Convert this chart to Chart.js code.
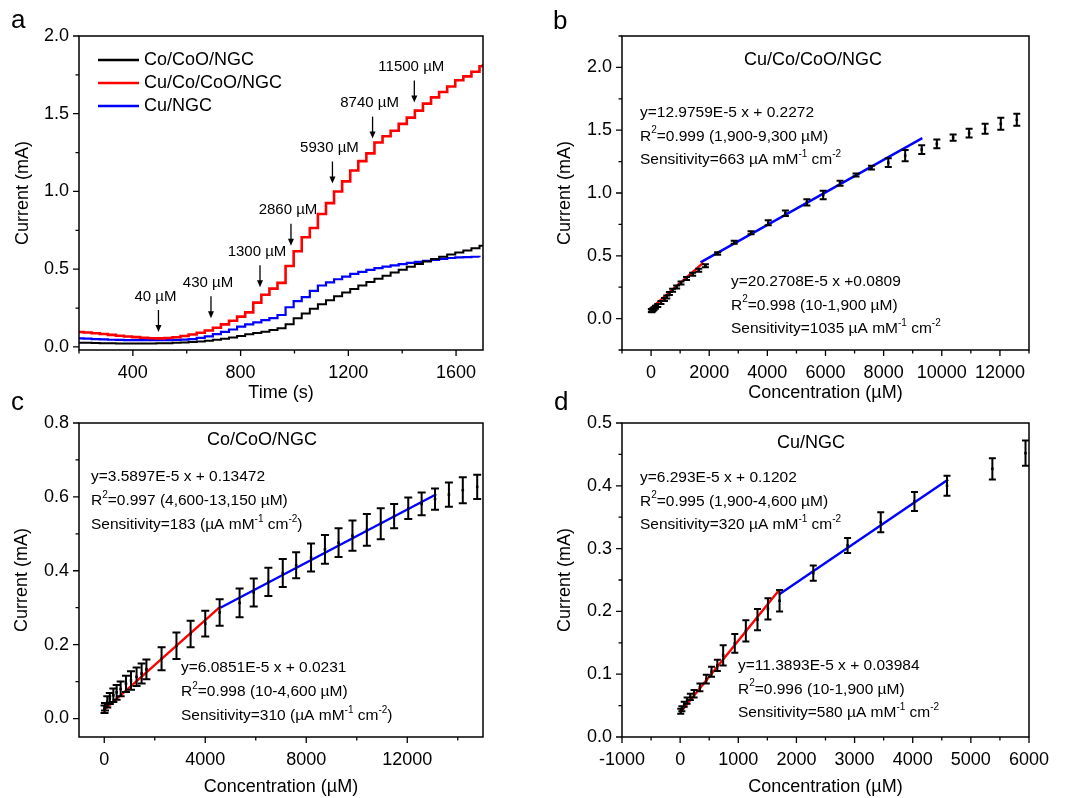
<!DOCTYPE html>
<html>
<head>
<meta charset="utf-8">
<script src="https://cdn.jsdelivr.net/npm/chart.js@4.4.1/dist/chart.umd.min.js"></script>
<style>
  html, body { margin: 0; padding: 0; background: #fff; }
  #wrap { position: relative; width: 1067px; height: 798px; }
  #wrap canvas { position: absolute; left: 0; top: 0; }
</style>
</head>
<body>
<div id="wrap">
  <canvas id="panelA" width="1067" height="798"></canvas>
  <canvas id="panelB" width="1067" height="798"></canvas>
  <canvas id="panelC" width="1067" height="798"></canvas>
  <canvas id="panelD" width="1067" height="798"></canvas>
</div>
<script>
// ─── PANEL A: current vs time (step additions) ─────────────
const timeS = [200, 217, 247, 277, 307, 337, 367, 397, 427, 457, 487, 517, 547, 577, 607, 637, 667,
  697, 727, 757, 787, 817, 847, 877, 907, 937, 967, 997, 1027, 1057, 1087, 1117, 1147, 1177, 1207,
  1237, 1267, 1297, 1327, 1357, 1387, 1417, 1447, 1477, 1507, 1537, 1567, 1597, 1627, 1657, 1687, 1700];
const iCoCoO = [0.027, 0.026, 0.025, 0.024, 0.023, 0.022, 0.022, 0.022, 0.022, 0.022, 0.023, 0.024, 0.026,
  0.028, 0.031, 0.035, 0.040, 0.046, 0.053, 0.060, 0.070, 0.082, 0.090, 0.098, 0.108, 0.120, 0.145, 0.185,
  0.215, 0.245, 0.275, 0.300, 0.325, 0.350, 0.372, 0.395, 0.418, 0.438, 0.458, 0.478, 0.497, 0.515, 0.533,
  0.550, 0.565, 0.580, 0.595, 0.608, 0.620, 0.635, 0.650, 0.655];
const iCuCoCoO = [0.096, 0.093, 0.088, 0.083, 0.077, 0.072, 0.067, 0.063, 0.059, 0.056, 0.055, 0.057, 0.062,
  0.070, 0.080, 0.091, 0.105, 0.123, 0.145, 0.168, 0.195, 0.222, 0.285, 0.335, 0.375, 0.412, 0.520, 0.615,
  0.705, 0.765, 0.855, 0.925, 1.000, 1.065, 1.135, 1.195, 1.245, 1.315, 1.355, 1.390, 1.435, 1.475, 1.520,
  1.565, 1.605, 1.640, 1.675, 1.715, 1.740, 1.770, 1.805, 1.820];
const iCuNGC = [0.055, 0.053, 0.050, 0.048, 0.046, 0.045, 0.044, 0.043, 0.043, 0.043, 0.043, 0.044, 0.045,
  0.047, 0.050, 0.058, 0.068, 0.082, 0.096, 0.112, 0.130, 0.145, 0.158, 0.172, 0.185, 0.205, 0.255, 0.295,
  0.320, 0.360, 0.395, 0.415, 0.435, 0.452, 0.470, 0.482, 0.495, 0.507, 0.517, 0.525, 0.533, 0.540, 0.547,
  0.553, 0.560, 0.566, 0.572, 0.576, 0.578, 0.580, 0.578, null];
const addLabels     = ['40 µM', '430 µM', '1300 µM', '2860 µM', '5930 µM', '8740 µM', '11500 µM'];
const addTimes      = [495, 690, 872, 987, 1141, 1290, 1445];
const addTipCurrent = [0.096, 0.185, 0.384, 0.650, 1.051, 1.340, 1.572];
const tickTimeA = [400, 800, 1200, 1600];
const tickCurrA = [0.0, 0.5, 1.0, 1.5, 2.0];

// ─── PANEL B: Cu/Co/CoO/NGC calibration ────────────────────
const concB = [10, 30, 60, 100, 150, 230, 340, 460, 540, 630, 740, 880, 1030, 1220, 1430, 1640, 1870,
  2290, 2860, 3440, 4030, 4620, 5360, 5920, 6500, 7050, 7580, 8160, 8740, 9310, 9830, 10390, 10940,
  11490, 12030, 12580];
const currB = [0.065, 0.060, 0.070, 0.078, 0.090, 0.105, 0.128, 0.152, 0.172, 0.200, 0.226, 0.252, 0.284,
  0.319, 0.354, 0.385, 0.420, 0.519, 0.607, 0.683, 0.763, 0.838, 0.926, 0.984, 1.077, 1.144, 1.202, 1.242,
  1.298, 1.346, 1.391, 1.441, 1.476, 1.511, 1.551, 1.583];
const errB = [0.012, 0.010, 0.012, 0.012, 0.012, 0.012, 0.012, 0.012, 0.012, 0.012, 0.012, 0.012, 0.012,
  0.012, 0.012, 0.012, 0.012, 0.010, 0.012, 0.012, 0.020, 0.022, 0.025, 0.033, 0.020, 0.012, 0.015, 0.035,
  0.045, 0.035, 0.035, 0.025, 0.035, 0.040, 0.048, 0.048];
const fitLowBX = [10, 1800],   fitLowBY = [0.083, 0.446];
const fitHighBX = [1700, 9330], fitHighBY = [0.448, 1.437];
const tickConcB = [0, 2000, 4000, 6000, 8000, 10000, 12000];
const tickCurrB = [0.0, 0.5, 1.0, 1.5, 2.0];

// ─── PANEL C: Co/CoO/NGC calibration ───────────────────────
const concC = [10, 30, 120, 220, 360, 490, 650, 860, 1060, 1280, 1480, 1670, 2270, 2860, 3420, 4000,
  4570, 5360, 5920, 6500, 7070, 7600, 8190, 8740, 9280, 9830, 10400, 10950, 11480, 12040, 12570, 13100,
  13650, 14200, 14770];
const currC = [0.025, 0.032, 0.045, 0.054, 0.063, 0.071, 0.080, 0.094, 0.103, 0.113, 0.122, 0.133, 0.162,
  0.197, 0.229, 0.257, 0.287, 0.313, 0.341, 0.370, 0.394, 0.415, 0.436, 0.458, 0.476, 0.495, 0.511, 0.527,
  0.548, 0.569, 0.581, 0.594, 0.606, 0.618, 0.627];
const errC = [0.010, 0.010, 0.015, 0.015, 0.018, 0.020, 0.020, 0.022, 0.025, 0.025, 0.027, 0.027, 0.031,
  0.036, 0.036, 0.035, 0.036, 0.039, 0.038, 0.038, 0.038, 0.035, 0.038, 0.039, 0.039, 0.041, 0.043, 0.042,
  0.033, 0.029, 0.031, 0.029, 0.033, 0.035, 0.033];
const fitLowCX = [10, 4600],    fitLowCY = [0.024, 0.303];
const fitHighCX = [4600, 13150], fitHighCY = [0.300, 0.607];
const tickConcC = [0, 4000, 8000, 12000];
const tickCurrC = [0.0, 0.2, 0.4, 0.6, 0.8];

// ─── PANEL D: Cu/NGC calibration ───────────────────────────
const concD = [10, 30, 70, 120, 175, 240, 340, 450, 540, 640, 740, 940, 1130, 1330, 1510, 1710, 2290,
  2880, 3450, 4030, 4590, 5370, 5940];
const currD = [0.041, 0.045, 0.052, 0.058, 0.064, 0.069, 0.079, 0.092, 0.104, 0.114, 0.130, 0.149, 0.169,
  0.187, 0.204, 0.217, 0.261, 0.305, 0.342, 0.375, 0.400, 0.427, 0.452];
const errD = [0.004, 0.004, 0.004, 0.005, 0.005, 0.006, 0.006, 0.007, 0.008, 0.009, 0.016, 0.015, 0.017,
  0.017, 0.017, 0.017, 0.012, 0.012, 0.016, 0.015, 0.016, 0.017, 0.020];
const fitLowDX = [10, 1700],   fitLowDY = [0.040, 0.2335];
const fitHighDX = [1700, 4610], fitHighDY = [0.227, 0.410];
const tickConcD = [-1000, 0, 1000, 2000, 3000, 4000, 5000, 6000];
const tickCurrD = [0.0, 0.1, 0.2, 0.3, 0.4, 0.5];

// ─── SHARED SETUP ──────────────────────────────────────────
const FONT = '"Liberation Sans", Arial, Helvetica, sans-serif';
Chart.defaults.font.family = FONT;
Chart.defaults.color = '#000';

const pts = (xs, ys) => xs.map((x, i) => ({ x, y: ys[i] }));
const fmt1 = v => v.toFixed(1);

function axis(o) {
  return {
    type: 'linear', min: o.min, max: o.max,
    grid: { display: false, drawTicks: false }, border: { display: false },
    afterBuildTicks: s => { s.ticks = o.ticks.map(v => ({ value: v })); },
    afterFit: s => { if (o.isX) s.height = o.size; else s.width = o.size; },
    ticks: { autoSkip: false, maxRotation: 0, padding: o.isX ? 12 : 10, font: { size: 18 }, color: '#000',
             callback: o.fmt || (v => String(v)) },
    title: { display: true, text: o.title, font: { size: 18 }, color: '#000',
             padding: o.isX ? { top: 0, bottom: o.titlePad } : { top: o.titlePad, bottom: 0 } },
  };
}

// major ticks from the scale, minor ticks halfway between
function tickMarks(scale) {
  const major = scale.ticks.map(t => t.value);
  const step = major[1] - major[0];
  const out = major.map(v => [v, 6]);
  for (let k = -3; k < major.length + 3; k++) {
    const v = major[0] + (k + 0.5) * step;
    if (v >= scale.min - step * 1e-6 && v <= scale.max + step * 1e-6) out.push([v, 3.5]);
  }
  return out;
}

const framePlugin = {
  id: 'frame',
  afterDraw(chart) {
    const { ctx, chartArea: ca, scales: { x, y } } = chart;
    ctx.save();
    ctx.strokeStyle = '#000';
    ctx.lineWidth = 1.5;
    ctx.strokeRect(ca.left, ca.top, ca.right - ca.left, ca.bottom - ca.top);
    ctx.lineWidth = 1.3;
    ctx.beginPath();
    tickMarks(x).forEach(([v, len]) => {
      const p = x.getPixelForValue(v);
      ctx.moveTo(p, ca.bottom); ctx.lineTo(p, ca.bottom + len);
    });
    tickMarks(y).forEach(([v, len]) => {
      const p = y.getPixelForValue(v);
      ctx.moveTo(ca.left, p); ctx.lineTo(ca.left - len, p);
    });
    ctx.stroke();
    ctx.restore();
  }
};

const errorBarPlugin = {
  id: 'errorBars',
  afterDatasetsDraw(chart, args, o) {
    const { ctx, scales: { y } } = chart;
    ctx.save();
    ctx.strokeStyle = '#000';
    ctx.lineWidth = o.width || 1.5;
    chart.data.datasets.forEach((ds, di) => {
      if (!ds.errors) return;
      chart.getDatasetMeta(di).data.forEach((pt, i) => {
        const v = ds.data[i].y, e = ds.errors[i];
        const top = y.getPixelForValue(v + e), bot = y.getPixelForValue(v - e);
        ctx.beginPath();
        ctx.moveTo(pt.x, top); ctx.lineTo(pt.x, bot);
        ctx.moveTo(pt.x - o.cap, top); ctx.lineTo(pt.x + o.cap, top);
        ctx.moveTo(pt.x - o.cap, bot); ctx.lineTo(pt.x + o.cap, bot);
        ctx.stroke();
      });
    });
    ctx.restore();
  }
};

// text with ^{..} superscripts, x = left edge, y = middle
function drawRich(ctx, text, x, y, size) {
  let cx = x;
  text.split(/(\^\{[^}]*\})/).forEach(p => {
    if (!p) return;
    if (p.startsWith('^{')) {
      const t = p.slice(2, -1);
      ctx.font = `${Math.round(size * 0.62)}px ${FONT}`;
      ctx.fillText(t, cx, y - size * 0.36);
      cx += ctx.measureText(t).width;
    } else {
      ctx.font = `${size}px ${FONT}`;
      ctx.fillText(p, cx, y);
      cx += ctx.measureText(p).width;
    }
  });
}

const notesPlugin = {
  id: 'notes',
  afterDraw(chart, args, o) {
    const ctx = chart.ctx;
    ctx.save();
    ctx.fillStyle = '#000';
    if (o.letter) {
      ctx.font = `26px ${FONT}`;
      ctx.textAlign = 'left'; ctx.textBaseline = 'alphabetic';
      ctx.fillText(o.letter.text, o.letter.x, o.letter.y);
    }
    ctx.textBaseline = 'middle';
    if (o.title) {
      ctx.font = `18px ${FONT}`;
      ctx.textAlign = 'center';
      ctx.fillText(o.title.text, o.title.x, o.title.y);
    }
    ctx.textAlign = 'left';
    (o.blocks || []).forEach(b => {
      b.lines.forEach((ln, i) => drawRich(ctx, ln, b.x, b.y + i * b.gap, 15.5));
    });
    if (o.legend) {
      const L = o.legend;
      chart.data.datasets.forEach((ds, i) => {
        const yy = L.y + i * L.gap;
        ctx.strokeStyle = ds.borderColor;
        ctx.lineWidth = 2.5;
        ctx.beginPath(); ctx.moveTo(L.x, yy); ctx.lineTo(L.x + 41, yy); ctx.stroke();
        ctx.font = `18px ${FONT}`;
        ctx.fillText(ds.label, L.x + 46, yy);
      });
    }
    ctx.restore();
  }
};

// addition arrows on panel a, anchored through the scales
const arrowPlugin = {
  id: 'arrows',
  afterDraw(chart) {
    const { ctx, scales: { x, y } } = chart;
    ctx.save();
    ctx.fillStyle = '#000'; ctx.strokeStyle = '#000'; ctx.lineWidth = 1.3;
    ctx.font = `15px ${FONT}`;
    ctx.textAlign = 'center'; ctx.textBaseline = 'middle';
    addTimes.forEach((t, i) => {
      const px = x.getPixelForValue(t);
      const tip = y.getPixelForValue(addTipCurrent[i]);
      const top = tip - 22;
      ctx.beginPath(); ctx.moveTo(px, top); ctx.lineTo(px, tip - 6); ctx.stroke();
      ctx.beginPath(); ctx.moveTo(px - 3, tip - 7); ctx.lineTo(px + 3, tip - 7); ctx.lineTo(px, tip); ctx.closePath(); ctx.fill();
      ctx.fillText(addLabels[i], px - 3, top - 13.5);
    });
    ctx.restore();
  }
};

function baseOptions(pad, xAxis, yAxis, notes, err) {
  return {
    responsive: false, animation: false,
    layout: { padding: pad },
    scales: { x: xAxis, y: yAxis },
    plugins: { legend: { display: false }, tooltip: { enabled: false }, notes, errorBars: err || {} },
  };
}

function calibDatasets(cx, cy, ce, lx, ly, hx, hy) {
  return [
    { data: pts(lx, ly), showLine: true, borderColor: '#ff0000', borderWidth: 2.4, pointRadius: 0 },
    { data: pts(hx, hy), showLine: true, borderColor: '#0000ff', borderWidth: 2.4, pointRadius: 0 },
    { data: pts(cx, cy), errors: ce, showLine: false, pointStyle: 'rect', pointRadius: 1.8,
      backgroundColor: '#000', borderColor: '#000', borderWidth: 0 },
  ];
}

// ─── PANEL A ───────────────────────────────────────────────
new Chart(document.getElementById('panelA'), {
  type: 'line',
  data: { datasets: [
    { label: 'Co/CoO/NGC',    data: pts(timeS, iCoCoO),   borderColor: '#000000', borderWidth: 2,   stepped: true, pointRadius: 0 },
    { label: 'Cu/Co/CoO/NGC', data: pts(timeS, iCuCoCoO), borderColor: '#ff0000', borderWidth: 2.6, stepped: true, pointRadius: 0 },
    { label: 'Cu/NGC',        data: pts(timeS, iCuNGC),   borderColor: '#0000ff', borderWidth: 2.2, stepped: true, pointRadius: 0 },
  ]},
  options: baseOptions(
    { left: 0, top: 36, right: 584, bottom: 394 },
    axis({ isX: true, min: 200, max: 1700, ticks: tickTimeA, size: 54, title: 'Time (s)', titlePad: 0.2 }),
    axis({ min: -0.02, max: 2.0, ticks: tickCurrA, size: 79, title: 'Current (mA)', titlePad: 12, fmt: fmt1 }),
    { letter: { text: 'a', x: 11, y: 28 }, legend: { x: 98, y: 60, gap: 23 } }
  ),
  plugins: [framePlugin, notesPlugin, arrowPlugin],
});

// ─── PANEL B ───────────────────────────────────────────────
new Chart(document.getElementById('panelB'), {
  type: 'scatter',
  data: { datasets: calibDatasets(concB, currB, errB, fitLowBX, fitLowBY, fitHighBX, fitHighBY) },
  options: baseOptions(
    { left: 550, top: 36, right: 38, bottom: 394 },
    axis({ isX: true, min: -1000, max: 13000, ticks: tickConcB, size: 54, title: 'Concentration (µM)', titlePad: 0.2 }),
    axis({ min: -0.25, max: 2.25, ticks: tickCurrB, size: 72, title: 'Current (mA)', titlePad: 4.2, fmt: fmt1 }),
    {
      letter: { text: 'b', x: 553, y: 29 },
      title: { text: 'Cu/Co/CoO/NGC', x: 813, y: 60 },
      blocks: [
        { x: 640, y: 113, gap: 23.3, lines: ['y=12.9759E-5 x + 0.2272', 'R^{2}=0.999 (1,900-9,300 µM)', 'Sensitivity=663 µA mM^{-1} cm^{-2}'] },
        { x: 731, y: 282, gap: 23.3, lines: ['y=20.2708E-5 x +0.0809', 'R^{2}=0.998 (10-1,900 µM)', 'Sensitivity=1035 µA mM^{-1} cm^{-2}'] },
      ],
    },
    { width: 2, cap: 3.5 }
  ),
  plugins: [framePlugin, errorBarPlugin, notesPlugin],
});

// ─── PANEL C ───────────────────────────────────────────────
new Chart(document.getElementById('panelC'), {
  type: 'scatter',
  data: { datasets: calibDatasets(concC, currC, errC, fitLowCX, fitLowCY, fitHighCX, fitHighCY) },
  options: baseOptions(
    { left: 0, top: 423, right: 584, bottom: 0 },
    axis({ isX: true, min: -1000, max: 15000, ticks: tickConcC, size: 61, title: 'Concentration (µM)', titlePad: 0.5 }),
    axis({ min: -0.05, max: 0.8, ticks: tickCurrC, size: 79, title: 'Current (mA)', titlePad: 11, fmt: fmt1 }),
    {
      letter: { text: 'c', x: 11, y: 410 },
      title: { text: 'Co/CoO/NGC', x: 262, y: 440 },
      blocks: [
        { x: 91, y: 477, gap: 23.8, lines: ['y=3.5897E-5 x + 0.13472', 'R^{2}=0.997 (4,600-13,150 µM)', 'Sensitivity=183 (µA mM^{-1} cm^{-2})'] },
        { x: 181, y: 668, gap: 23.8, lines: ['y=6.0851E-5 x + 0.0231', 'R^{2}=0.998 (10-4,600 µM)', 'Sensitivity=310 (µA mM^{-1} cm^{-2})'] },
      ],
    },
    { width: 2, cap: 4 }
  ),
  plugins: [framePlugin, errorBarPlugin, notesPlugin],
});

// ─── PANEL D ───────────────────────────────────────────────
new Chart(document.getElementById('panelD'), {
  type: 'scatter',
  data: { datasets: calibDatasets(concD, currD, errD, fitLowDX, fitLowDY, fitHighDX, fitHighDY) },
  options: baseOptions(
    { left: 550, top: 423, right: 38, bottom: 0 },
    axis({ isX: true, min: -1000, max: 6000, ticks: tickConcD, size: 61, title: 'Concentration (µM)', titlePad: 0.5 }),
    axis({ min: 0, max: 0.5, ticks: tickCurrD, size: 72, title: 'Current (mA)', titlePad: 4.2, fmt: fmt1 }),
    {
      letter: { text: 'd', x: 554, y: 410 },
      title: { text: 'Cu/NGC', x: 811, y: 443 },
      blocks: [
        { x: 640, y: 478, gap: 23.3, lines: ['y=6.293E-5 x + 0.1202', 'R^{2}=0.995 (1,900-4,600 µM)', 'Sensitivity=320 µA mM^{-1} cm^{-2}'] },
        { x: 738, y: 666, gap: 23.3, lines: ['y=11.3893E-5 x + 0.03984', 'R^{2}=0.996 (10-1,900 µM)', 'Sensitivity=580 µA mM^{-1} cm^{-2}'] },
      ],
    },
    { width: 2, cap: 3.5 }
  ),
  plugins: [framePlugin, errorBarPlugin, notesPlugin],
});
</script>
</body>
</html>
